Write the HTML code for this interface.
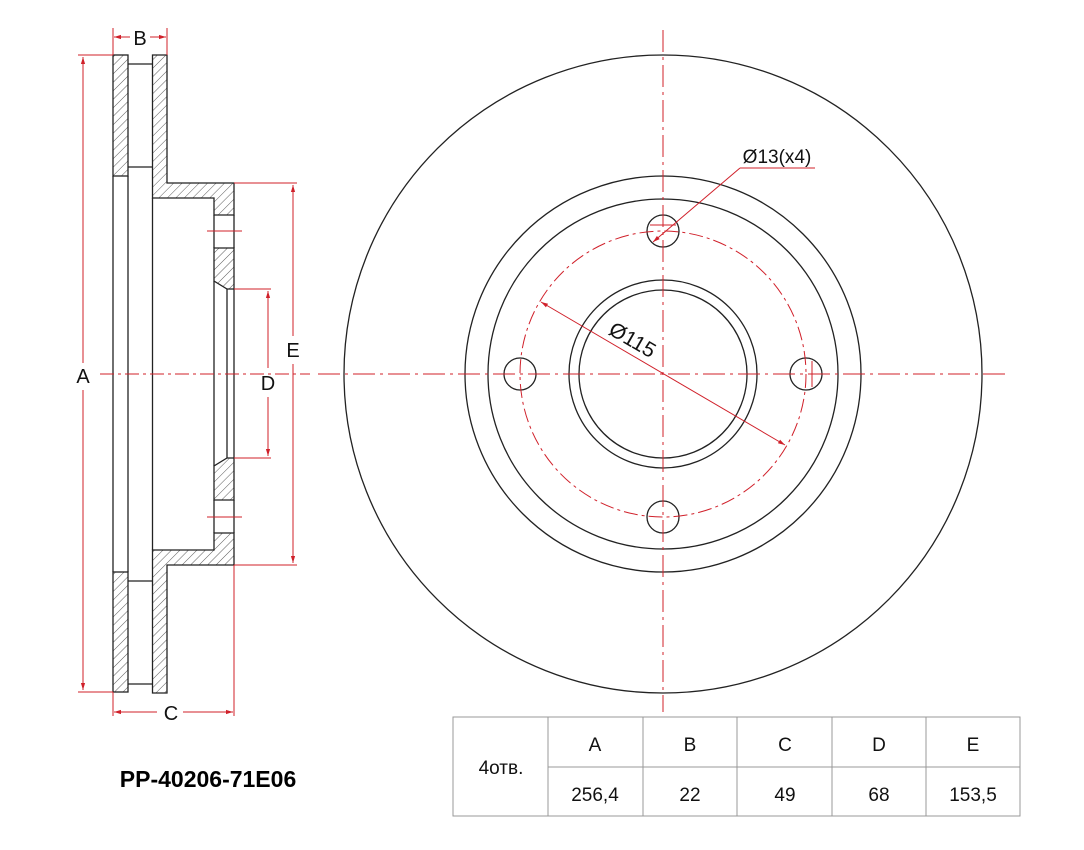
<!DOCTYPE html>
<html><head><meta charset="utf-8"><style>
html,body{margin:0;padding:0;background:#fff;}
svg{display:block;font-family:"Liberation Sans",sans-serif;}
</style></head><body>
<svg width="1084" height="850" viewBox="0 0 1084 850" xmlns="http://www.w3.org/2000/svg">
<defs>
<pattern id="h" patternUnits="userSpaceOnUse" width="6" height="6" patternTransform="rotate(45)">
<line x1="0" y1="0" x2="0" y2="6" stroke="#333" stroke-width="0.8"/>
</pattern>
<marker id="a" viewBox="0 0 10 10" refX="10" refY="5" markerWidth="7" markerHeight="7" orient="auto-start-reverse"><path d="M0,2 L10,5 L0,8z" fill="#d0202a"/></marker>
</defs>
<g stroke="#222" stroke-width="1.3" fill="none">
<g fill="url(#h)">
<rect x="113" y="55" width="15" height="121"/>
<rect x="113" y="572" width="15" height="120"/>
<path d="M152.5,55 H167 V183 H234 V215 H214 V198 H152.5 Z"/>
<path d="M152.5,693 H167 V565 H234 V533 H214 V550 H152.5 Z"/>
<path d="M214,248 H234 V289 H227 L214,281 Z"/>
<path d="M214,500 H234 V458 H227 L214,466 Z"/>
</g>
<line x1="113" y1="176" x2="113" y2="572"/>
<line x1="128" y1="176" x2="128" y2="572"/>
<line x1="152.5" y1="198" x2="152.5" y2="550"/>
<line x1="128" y1="64" x2="152.5" y2="64"/>
<line x1="128" y1="167" x2="152.5" y2="167"/>
<line x1="128" y1="581" x2="152.5" y2="581"/>
<line x1="128" y1="684" x2="152.5" y2="684"/>
<line x1="214" y1="215" x2="214" y2="248"/>
<line x1="234" y1="215" x2="234" y2="248"/>
<line x1="214" y1="500" x2="214" y2="533"/>
<line x1="234" y1="500" x2="234" y2="533"/>
<line x1="227" y1="289" x2="227" y2="458"/>
<line x1="234" y1="289" x2="234" y2="458"/>
<line x1="214" y1="281" x2="214" y2="466"/>
</g>
<g stroke="#d0202a" stroke-width="1" fill="none">
<line x1="78" y1="55" x2="113" y2="55"/>
<line x1="78" y1="692" x2="113" y2="692"/>
<line x1="83" y1="57" x2="83" y2="363" marker-start="url(#a)"/>
<line x1="83" y1="390" x2="83" y2="690" marker-end="url(#a)"/>
<line x1="113" y1="28" x2="113" y2="55"/>
<line x1="167" y1="28" x2="167" y2="55"/>
<line x1="114" y1="37" x2="130" y2="37" marker-start="url(#a)"/>
<line x1="150" y1="37" x2="166" y2="37" marker-end="url(#a)"/>
<line x1="113" y1="692" x2="113" y2="716"/>
<line x1="234" y1="565" x2="234" y2="716"/>
<line x1="114" y1="712" x2="157" y2="712" marker-start="url(#a)"/>
<line x1="183" y1="712" x2="233" y2="712" marker-end="url(#a)"/>
<line x1="234" y1="183" x2="297" y2="183"/>
<line x1="234" y1="565" x2="297" y2="565"/>
<line x1="293" y1="185" x2="293" y2="336" marker-start="url(#a)"/>
<line x1="293" y1="364" x2="293" y2="563" marker-end="url(#a)"/>
<line x1="234" y1="289" x2="271" y2="289"/>
<line x1="234" y1="458" x2="271" y2="458"/>
<line x1="268" y1="291" x2="268" y2="368" marker-start="url(#a)"/>
<line x1="268" y1="397" x2="268" y2="456" marker-end="url(#a)"/>
<line x1="207" y1="231" x2="242" y2="231"/>
<line x1="207" y1="517" x2="242" y2="517"/>
<line x1="100" y1="374" x2="310" y2="374" stroke-dasharray="14,4,3,4"/>
</g>
<g font-size="20" fill="#111" text-anchor="middle">
<text x="140" y="45">B</text>
<text x="83" y="383">A</text>
<text x="171" y="720">C</text>
<text x="293" y="357">E</text>
<text x="268" y="390">D</text>
</g>
<g stroke="#222" stroke-width="1.3" fill="none">
<circle cx="663" cy="374" r="319"/>
<circle cx="663" cy="374" r="198"/>
<circle cx="663" cy="374" r="175"/>
<circle cx="663" cy="374" r="94"/>
<circle cx="663" cy="374" r="84"/>
<circle cx="663" cy="231" r="16"/>
<circle cx="663" cy="517" r="16"/>
<circle cx="520" cy="374" r="16"/>
<circle cx="806" cy="374" r="16"/>
</g>
<g stroke="#d0202a" stroke-width="1" fill="none">
<circle cx="663" cy="374" r="143" stroke-dasharray="14,4,3,4"/>
<line x1="318" y1="374" x2="1008" y2="374" stroke-dasharray="22,5,3,5"/>
<line x1="663" y1="30" x2="663" y2="712" stroke-dasharray="22,5,3,5"/>
<line x1="650" y1="225" x2="676" y2="225"/>
<line x1="812" y1="361" x2="812" y2="387"/>
<line x1="740" y1="168" x2="653" y2="242" marker-end="url(#a)"/>
<line x1="740" y1="168" x2="815" y2="168"/>
<line x1="541" y1="302" x2="785" y2="445" marker-start="url(#a)" marker-end="url(#a)"/>
</g>
<text x="777" y="163" font-size="19" fill="#111" text-anchor="middle">Ø13(x4)</text>
<text x="0" y="0" font-size="21" fill="#111" text-anchor="middle" transform="translate(629,346) rotate(30)">Ø115</text>
<g stroke="#999" stroke-width="1" fill="none">
<rect x="453" y="717" width="567" height="99"/>
<line x1="548" y1="767" x2="1020" y2="767"/>
<line x1="548" y1="717" x2="548" y2="816"/>
<line x1="643" y1="717" x2="643" y2="816"/>
<line x1="737" y1="717" x2="737" y2="816"/>
<line x1="832" y1="717" x2="832" y2="816"/>
<line x1="926" y1="717" x2="926" y2="816"/>
</g>
<g font-size="19" fill="#111" text-anchor="middle">
<text x="501" y="774">4отв.</text>
<text x="595" y="751">A</text><text x="690" y="751">B</text><text x="785" y="751">C</text><text x="879" y="751">D</text><text x="973" y="751">E</text>
<text x="595" y="801">256,4</text><text x="690" y="801">22</text><text x="785" y="801">49</text><text x="879" y="801">68</text><text x="973" y="801">153,5</text>
</g>
<text x="208" y="787" font-size="23" font-weight="bold" fill="#000" text-anchor="middle">PP-40206-71E06</text>
</svg>
</body></html>
